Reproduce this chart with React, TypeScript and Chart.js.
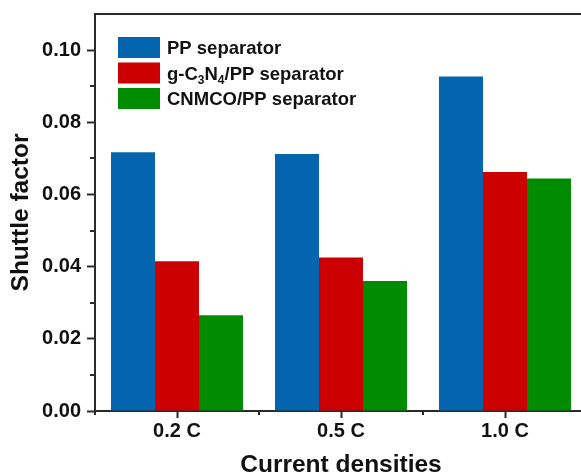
import React, { useEffect, useRef } from 'react';
import { Chart, registerables } from 'chart.js';

Chart.register(...registerables);

const categories = ['0.2 C', '0.5 C', '1.0 C'];
const seriesNames = ['PP separator', 'g-C3N4/PP separator', 'CNMCO/PP separator'];
const ppValues = [0.0717, 0.0712, 0.0927];
const gc3n4Values = [0.0415, 0.0425, 0.0662];
const cnmcoValues = [0.0265, 0.036, 0.0644];
const seriesValues = [ppValues, gc3n4Values, cnmcoValues];
const seriesColors = ['#0464ad', '#cc0000', '#008c00'];
const yMajorTicks = [0, 0.02, 0.04, 0.06, 0.08, 0.1];
const yMinorTicks = [0.01, 0.03, 0.05, 0.07, 0.09];

const FONT = '"Liberation Sans", Arial, Helvetica, sans-serif';
const AXIS = '#2a2a2a';
const TEXT = '#111111';

// Draws a label where digits directly after a letter become subscripts (g-C3N4).
function drawFormula(ctx: CanvasRenderingContext2D, text: string, x: number, baseline: number) {
  const main = `bold 18.5px ${FONT}`;
  const sub = `bold 12px ${FONT}`;
  let cx = x;
  for (let i = 0; i < text.length; i++) {
    const ch = text[i];
    const isSub = /\d/.test(ch) && i > 0 && /[A-Za-z]/.test(text[i - 1]);
    ctx.font = isSub ? sub : main;
    ctx.fillText(ch, cx, isSub ? baseline + 4 : baseline);
    cx += ctx.measureText(ch).width;
  }
}

const decorPlugin = {
  id: 'decor',
  afterDraw(chart: any) {
    const { ctx, chartArea: a, scales } = chart;
    ctx.save();
    ctx.strokeStyle = AXIS;
    ctx.lineWidth = 2;
    ctx.beginPath();
    ctx.moveTo(a.left - 1, a.top);
    ctx.lineTo(a.right, a.top);
    ctx.stroke();

    yMinorTicks.forEach((v) => {
      const y = Math.round(scales.y.getPixelForValue(v));
      ctx.beginPath();
      ctx.moveTo(a.left - 5, y);
      ctx.lineTo(a.left, y);
      ctx.stroke();
    });
    for (let i = 0; i <= categories.length; i++) {
      const x = Math.round(scales.x.getPixelForValue(i - 0.5));
      ctx.beginPath();
      ctx.moveTo(x, a.bottom);
      ctx.lineTo(x, a.bottom + 4);
      ctx.stroke();
    }

    // legend
    ctx.textAlign = 'left';
    ctx.textBaseline = 'alphabetic';
    seriesNames.forEach((name, i) => {
      const top = 37 + i * 25.5;
      ctx.fillStyle = seriesColors[i];
      ctx.fillRect(118, top, 42, 21);
      ctx.fillStyle = TEXT;
      drawFormula(ctx, name, 167, top + 17);
    });
    ctx.restore();
  },
};

export default function App() {
  const ref = useRef<HTMLCanvasElement | null>(null);

  useEffect(() => {
    if (!ref.current) return;
    const chart = new Chart(ref.current, {
      type: 'bar',
      data: {
        labels: categories,
        datasets: seriesNames.map((name, i) => ({
          label: name,
          data: seriesValues[i],
          backgroundColor: seriesColors[i],
          borderWidth: 0,
          barPercentage: 1,
          categoryPercentage: 0.805,
        })),
      },
      options: {
        responsive: false,
        animation: false,
        devicePixelRatio: 1,
        layout: { padding: { top: 14, right: 13, left: 0, bottom: 0 } },
        plugins: { legend: { display: false }, tooltip: { enabled: false } },
        scales: {
          x: {
            grid: {
              offset: false,
              drawOnChartArea: false,
              drawTicks: true,
              tickLength: 7,
              tickWidth: 2,
              tickColor: AXIS,
            },
            border: { display: true, color: AXIS, width: 2 },
            ticks: { color: TEXT, padding: 1, font: { family: FONT, size: 20, weight: 'bold' } },
            title: {
              display: true,
              text: 'Current densities',
              color: TEXT,
              padding: { top: 0, bottom: 0 },
              font: { family: FONT, size: 24.5, weight: 'bold' },
            },
            afterFit: (s: any) => {
              s.height = 69;
              s.paddingLeft = 0;
              s.paddingRight = 0;
            },
          },
          y: {
            min: 0,
            max: 0.11,
            ticks: {
              stepSize: 0.02,
              color: TEXT,
              padding: 6,
              font: { family: FONT, size: 20, weight: 'bold' },
              callback: (v: any) => Number(v).toFixed(2),
            },
            afterBuildTicks: (s: any) => {
              s.ticks = yMajorTicks.map((v) => ({ value: v }));
            },
            grid: {
              drawOnChartArea: false,
              drawTicks: true,
              tickLength: 8,
              tickWidth: 2,
              tickColor: AXIS,
            },
            border: { display: true, color: AXIS, width: 2 },
            title: {
              display: true,
              text: 'Shuttle factor',
              color: TEXT,
              padding: { top: 7, bottom: 0 },
              font: { family: FONT, size: 24.5, weight: 'bold' },
            },
            afterFit: (s: any) => {
              s.width = 95;
              s.paddingTop = 0;
              s.paddingBottom = 0;
            },
          },
        },
      },
      plugins: [decorPlugin],
    });
    return () => chart.destroy();
  }, []);

  return (
    <div
      style={{
        position: 'fixed',
        left: 0,
        top: 0,
        width: 581,
        height: 474,
        overflow: 'hidden',
        background: '#ffffff',
      }}
    >
      <canvas ref={ref} width={600} height={480} style={{ display: 'block', width: 600, height: 480 }} />
    </div>
  );
}
